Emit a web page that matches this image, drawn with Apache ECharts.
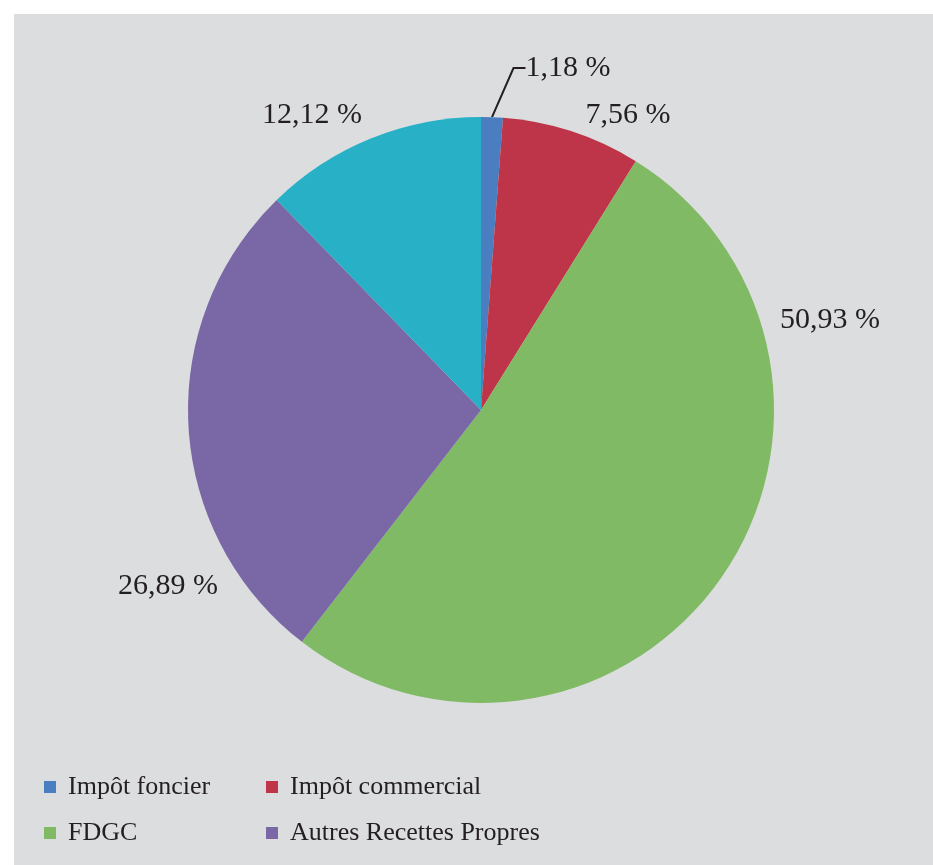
<!DOCTYPE html>
<html>
<head>
<meta charset="utf-8">
<script src="https://cdn.jsdelivr.net/npm/echarts@6/dist/echarts.min.js"></script>
<style>
  html, body { margin: 0; padding: 0; background: #ffffff; }
  #chart { width: 933px; height: 865px; }
</style>
</head>
<body>
<div id="chart"></div>
<script>
// ---- data ----
const categories = ['Impôt foncier', 'Impôt commercial', 'FDGC', 'Autres Recettes Propres', 'Autres'];
const values = [1.18, 7.56, 50.93, 26.89, 12.12];
const labelTexts = ['1,18 %', '7,56 %', '50,93 %', '26,89 %', '12,12 %'];
const legendCol1 = ['Impôt foncier', 'FDGC'];
const legendCol2 = ['Impôt commercial', 'Autres Recettes Propres'];

// ---- styles ----
const colors = ['#4a7ec0', '#be3549', '#80ba64', '#7a68a6', '#27b0c6'];
// label anchor positions (text centres), as placed in the original chart
const labelPos = [[568, 68], [628, 115], [830, 320], [168, 586], [312, 115]];

const chart = echarts.init(document.getElementById('chart'), null, { renderer: 'canvas' });

const seriesData = categories.map((name, i) => ({
  name: name,
  value: values[i],
  itemStyle: { color: colors[i] },
  labelLine: { show: i === 0 }
}));

const legendCommon = {
  orient: 'vertical',
  top: 774,
  padding: 0,
  itemWidth: 12,
  itemHeight: 12,
  itemGap: 20,
  icon: 'rect',
  textStyle: {
    fontFamily: 'Liberation Serif',
    fontSize: 26,
    color: '#231f20',
    padding: [0, 0, 0, 7]
  }
};

chart.setOption({
  animation: false,
  backgroundColor: 'transparent',
  graphic: [{
    type: 'rect',
    z: -10,
    silent: true,
    shape: { x: 14, y: 14, width: 919, height: 851 },
    style: { fill: '#dcdddf' }
  }],
  legend: [
    Object.assign({}, legendCommon, { data: legendCol1, left: 44 }),
    Object.assign({}, legendCommon, { data: legendCol2, left: 266 })
  ],
  series: [{
    type: 'pie',
    center: [481, 410],
    radius: [0, 293],
    startAngle: 90,
    clockwise: true,
    avoidLabelOverlap: false,
    data: seriesData,
    itemStyle: { borderWidth: 0 },
    label: {
      show: true,
      position: 'outside',
      formatter: p => labelTexts[p.dataIndex],
      fontFamily: 'Liberation Serif',
      fontSize: 30,
      color: '#231f20',
      distanceToLabelLine: 4
    },
    labelLine: {
      show: true,
      length: 50,
      length2: 12,
      smooth: false,
      lineStyle: { color: '#231f20', width: 2 }
    },
    labelLayout: function (params) {
      const pos = labelPos[params.dataIndex];
      if (!pos) return {};
      return { x: pos[0], y: pos[1], align: 'center', verticalAlign: 'middle' };
    },
    emphasis: { disabled: true }
  }]
});
</script>
</body>
</html>
